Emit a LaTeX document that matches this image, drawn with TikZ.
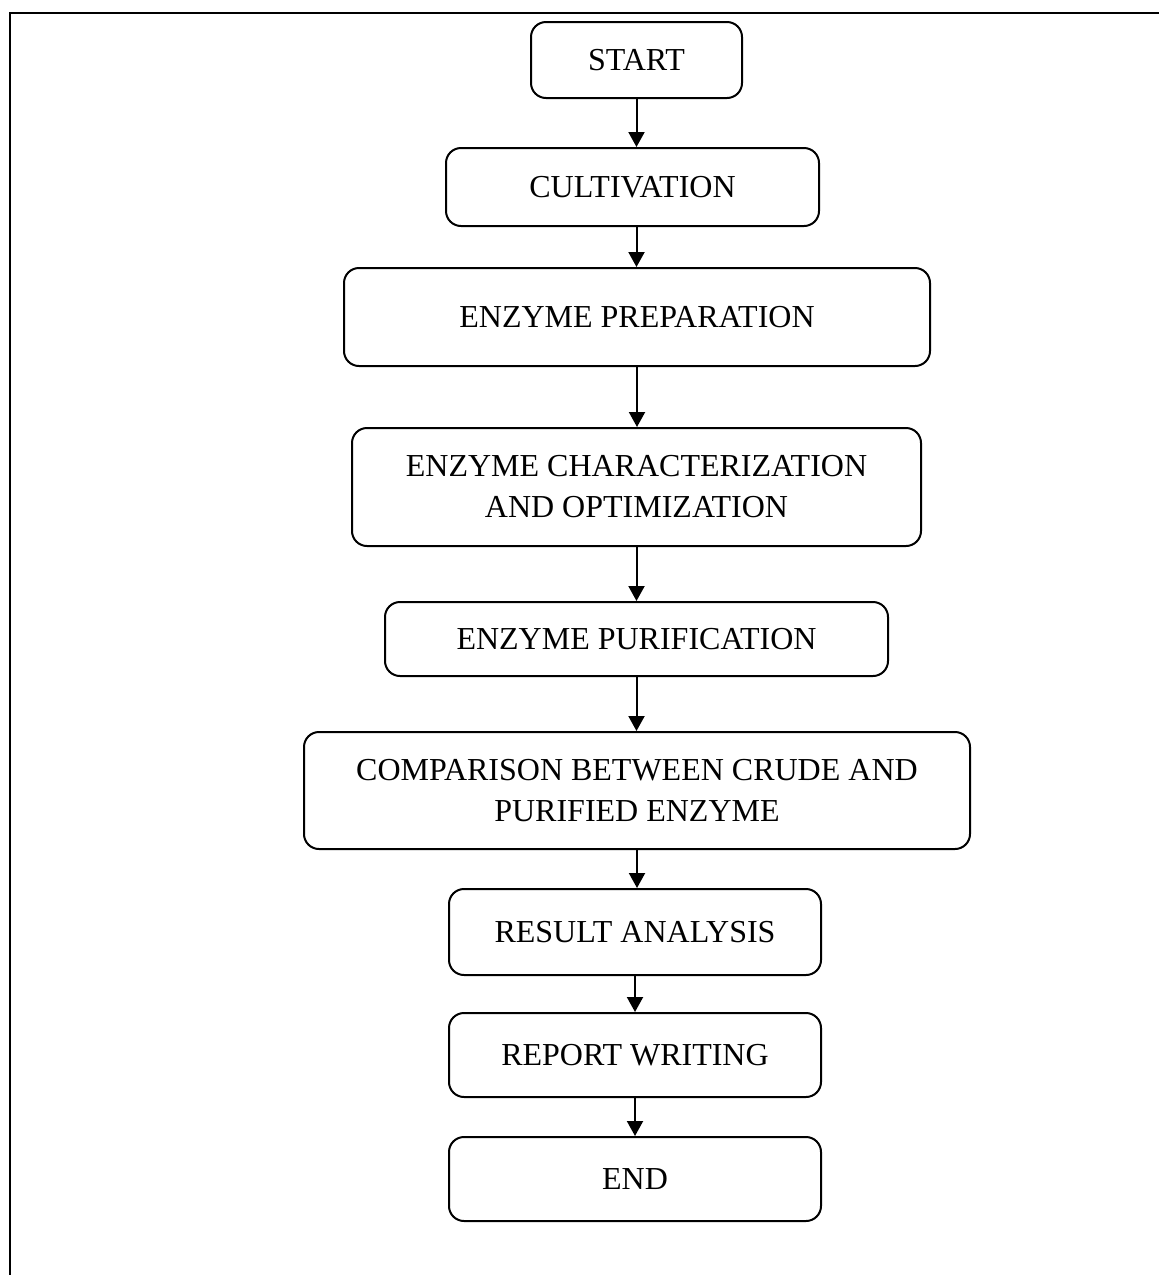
\documentclass[tikz,border=0pt]{standalone}
\usepackage{fontspec}
\setmainfont{Liberation Serif}
\usetikzlibrary{calc,arrows.meta,positioning}

\begin{document}
\begin{tikzpicture}[x=0.5pt,y=-0.5pt]
\tikzset{stage/.style={rectangle,rounded corners=7.5pt,draw=black,line width=1.0pt,align=center,inner sep=0pt,font=\fontsize{16}{20.5}\selectfont},
         flow/.style={-{Triangle[width=8pt,length=7.5pt]},line width=1.0pt}}

\useasboundingbox (0,0) rectangle (1159,1275);
\coordinate (LEFTCORNER) at (0,0);

% draw frame
\draw[line width=1.0pt] (LEFTCORNER) ++(9,12.5) -- ++(1150,0);
\draw[line width=1.0pt] (LEFTCORNER) ++(10,12) -- ++(0,1263);

%%%%%%%%%%%%%%%%%%%
% draw stages
\node[stage,minimum width=105.5pt,minimum height=38pt] at ($(LEFTCORNER)+(636.5,60)$) (START) {START};
\node[stage,minimum width=186.5pt,minimum height=39pt] at ($(LEFTCORNER)+(632.5,187)$) (CULT) {CULTIVATION};
\node[stage,minimum width=293pt,minimum height=49pt] at ($(LEFTCORNER)+(637,317)$) (PREP) {ENZYME PREPARATION};
\node[stage,minimum width=284.5pt,minimum height=59pt] at ($(LEFTCORNER)+(636.5,487)$) (CHAR) {ENZYME CHARACTERIZATION\\AND OPTIMIZATION};
\node[stage,minimum width=251.5pt,minimum height=37pt] at ($(LEFTCORNER)+(636.5,639)$) (PURIF) {ENZYME PURIFICATION};
\node[stage,minimum width=333pt,minimum height=58.5pt] at ($(LEFTCORNER)+(637,790.5)$) (COMP) {COMPARISON BETWEEN CRUDE AND\\PURIFIED ENZYME};
\node[stage,minimum width=186pt,minimum height=43pt] at ($(LEFTCORNER)+(635,932)$) (RESULT) {RESULT ANALYSIS};
\node[stage,minimum width=186pt,minimum height=42pt] at ($(LEFTCORNER)+(635,1055)$) (REPORT) {REPORT WRITING};
\node[stage,minimum width=186pt,minimum height=42pt] at ($(LEFTCORNER)+(635,1179)$) (END) {END};

% draw arrows
\draw[flow] (START.south) -- (START.south |- CULT.north);
\draw[flow] (START.south |- CULT.south) -- (START.south |- PREP.north);
\draw[flow] (PREP.south) -- (PREP.south |- CHAR.north);
\draw[flow] (CHAR.south) -- (CHAR.south |- PURIF.north);
\draw[flow] (PURIF.south) -- (PURIF.south |- COMP.north);
\draw[flow] (COMP.south) -- (COMP.south |- RESULT.north);
\draw[flow] (RESULT.south) -- (RESULT.south |- REPORT.north);
\draw[flow] (REPORT.south) -- (REPORT.south |- END.north);

\end{tikzpicture}
\end{document}
